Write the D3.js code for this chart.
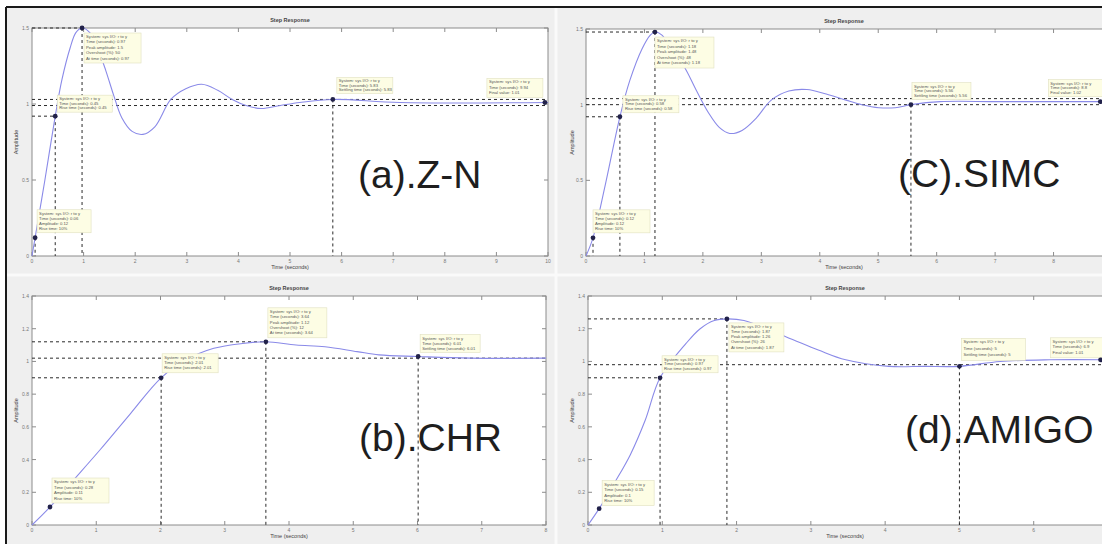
<!DOCTYPE html>
<html>
<head>
<meta charset="utf-8">
<script src="https://cdn.jsdelivr.net/npm/d3@7"></script>
<style>
  body { margin: 0; background: #fff; }
  svg { display: block; font-family: "Liberation Sans", Arial, sans-serif; }
</style>
</head>
<body>
<svg width="1102" height="544"></svg>
<script>
// step responses
const panelLabels = ["(a).Z-N", "(C).SIMC", "(b).CHR", "(d).AMIGO"]

const znTime = [0, 0.06, 0.25, 0.45, 0.58, 0.74, 0.85, 0.97, 1.12, 1.28, 1.43, 1.59, 1.74, 1.94, 2.15, 2.38, 2.69, 2.98, 3.29, 3.6, 3.88, 4.15, 4.44, 4.81, 5.19, 5.83, 7.13, 10]
const znAmp = [0, 0.12, 0.5, 0.92, 1.16, 1.37, 1.47, 1.5, 1.47, 1.36, 1.22, 1.05, 0.91, 0.82, 0.8, 0.85, 1.03, 1.1, 1.13, 1.09, 1.03, 0.99, 0.97, 0.99, 1.01, 1.03, 1.01, 1.01]
const znTipT = [0.06, 0.45, 0.97, 5.83, 9.94]
const znTipA = [0.12, 0.92, 1.5, 1.03, 1.01]
const znLevels = [1.03, 0.99]

const simcTime = [0, 0.12, 0.33, 0.58, 0.75, 0.96, 1.1, 1.18, 1.3, 1.47, 1.68, 1.88, 2.09, 2.28, 2.46, 2.67, 2.91, 3.17, 3.47, 3.78, 4.11, 4.45, 4.72, 5.01, 5.29, 5.56, 6.06, 7.08, 9]
const simcAmp = [0, 0.12, 0.47, 0.92, 1.16, 1.37, 1.46, 1.48, 1.46, 1.36, 1.25, 1.1, 0.95, 0.85, 0.81, 0.83, 0.91, 1.03, 1.09, 1.1, 1.07, 1.03, 1.0, 0.98, 0.98, 1.0, 1.02, 1.02, 1.02]
const simcTipT = [0.12, 0.58, 1.18, 5.56, 8.8]
const simcTipA = [0.12, 0.92, 1.48, 1.0, 1.02]
const simcLevels = [1.04, 1.0]

const chrTime = [0, 0.28, 0.59, 1.06, 1.53, 2.01, 2.4, 2.83, 3.28, 3.64, 4.11, 4.56, 5.06, 5.4, 6.01, 6.82, 8]
const chrAmp = [0, 0.11, 0.25, 0.46, 0.68, 0.9, 1.01, 1.08, 1.11, 1.12, 1.1, 1.09, 1.06, 1.04, 1.03, 1.02, 1.02]
const chrTipT = [0.28, 2.01, 3.64, 6.01]
const chrTipA = [0.11, 0.9, 1.12, 1.03]
const chrLevels = [1.02]

const amigoTime = [0, 0.15, 0.36, 0.57, 0.77, 0.97, 1.32, 1.51, 1.7, 1.87, 2.1, 2.67, 3.1, 3.47, 4.05, 4.53, 5.0, 5.55, 6.22, 7]
const amigoAmp = [0, 0.1, 0.26, 0.43, 0.64, 0.9, 1.11, 1.2, 1.25, 1.26, 1.25, 1.15, 1.07, 1.01, 0.97, 0.97, 0.97, 1.0, 1.01, 1.01]
const amigoTipT = [0.15, 0.97, 1.87, 5.0, 6.9]
const amigoTipA = [0.1, 0.9, 1.26, 0.97, 1.01]
const amigoLevels = [0.98]

const tipKinds = ["low", "rise", "peak", "settle", "final"]

const W = 1102
const svg = d3.select("svg")

// figure background + window frame
svg.append("rect").attr("x", 6).attr("y", 7).attr("width", 1096).attr("height", 537).attr("fill", "#efefef")
svg.append("line").attr("x1", 556).attr("x2", 556).attr("y1", 8).attr("y2", 544).attr("stroke", "#fafafa").attr("stroke-width", 3)
svg.append("line").attr("x1", 6).attr("x2", W).attr("y1", 275).attr("y2", 275).attr("stroke", "#fafafa").attr("stroke-width", 3)
svg.append("line").attr("x1", 6).attr("x2", W).attr("y1", 7).attr("y2", 7).attr("stroke", "#1a1a1a").attr("stroke-width", 2)
svg.append("line").attr("x1", 6).attr("x2", 6).attr("y1", 7).attr("y2", 544).attr("stroke", "#1a1a1a").attr("stroke-width", 2)

const panels = [
  { t: znTime, a: znAmp, tipT: znTipT, tipA: znTipA, levels: znLevels, label: panelLabels[0],
    x0: 32, x1: 548, y0: 28, y1: 256, tMax: 10, aMax: 1.5, aStep: 0.5, lowGuide: true,
    labelPos: [358, 188], yLabX: 18,
    boxes: [[2, -28, 54, 23], [2, -21, 55, 17], [2, 5, 57, 30], [4, -22, 56, 16], [-58, -24, 56, 19]] },
  { t: simcTime, a: simcAmp, tipT: simcTipT, tipA: simcTipA, levels: simcLevels, label: panelLabels[1],
    x0: 586, x1: 1112, y0: 29, y1: 256, tMax: 9, aMax: 1.5, aStep: 0.5, lowGuide: true,
    labelPos: [898, 187], yLabX: 574,
    boxes: [[0, -28, 57, 23], [3, -21, 56, 17], [0, 5, 59, 31], [1, -22, 59, 17], [-52, -22, 56, 17]] },
  { t: chrTime, a: chrAmp, tipT: chrTipT, tipA: chrTipA, levels: chrLevels, label: panelLabels[2],
    x0: 32, x1: 546, y0: 296, y1: 525, tMax: 8, aMax: 1.4, aStep: 0.2, lowGuide: false,
    labelPos: [359, 451], yLabX: 18,
    boxes: [[2, -29, 57, 25], [1, -24, 56, 19], [2, -34, 59, 30], [2, -22, 60, 18]] },
  { t: amigoTime, a: amigoAmp, tipT: amigoTipT, tipA: amigoTipA, levels: amigoLevels, label: panelLabels[3],
    x0: 588, x1: 1108, y0: 296, y1: 525, tMax: 7, aMax: 1.4, aStep: 0.2, lowGuide: false,
    labelPos: [905, 443], yLabX: 574,
    boxes: [[3, -28, 52, 25], [2, -22, 56, 17], [2, 4, 55, 29], [2, -28, 64, 22], [-50, -22, 57, 20]] }
]

const fmt = d3.format(".3~f")
const tipText = (kind, t, a) => {
  switch (kind) {
    case "low": return ["System: sys  I/O: r to y", "Time (seconds): " + fmt(t), "Amplitude: " + fmt(a), "Rise time: 10%"]
    case "rise": return ["System: sys  I/O: r to y", "Time (seconds): " + fmt(t), "Rise time (seconds): " + fmt(t)]
    case "peak": return ["System: sys  I/O: r to y", "Time (seconds): " + fmt(t), "Peak amplitude: " + fmt(a), "Overshoot (%): " + fmt((a - 1) * 100), "At time (seconds): " + fmt(t)]
    case "settle": return ["System: sys  I/O: r to y", "Time (seconds): " + fmt(t), "Settling time (seconds): " + fmt(t)]
    default: return ["System: sys  I/O: r to y", "Time (seconds): " + fmt(t), "Final value: " + fmt(a)]
  }
}

panels.forEach(p => {
  const x = d3.scaleLinear().domain([0, p.tMax]).range([p.x0, p.x1])
  const y = d3.scaleLinear().domain([0, p.aMax]).range([p.y1, p.y0])
  const g = svg.append("g")
  const xm = (p.x0 + Math.min(p.x1, W)) / 2

  g.append("rect").attr("x", p.x0).attr("y", p.y0)
    .attr("width", p.x1 - p.x0).attr("height", p.y1 - p.y0)
    .attr("fill", "#fff").attr("stroke", "#8c8c8c").attr("stroke-width", 1)

  // inward ticks on all four sides, matlab style
  const xt = d3.range(0, p.tMax + 1e-9, 1)
  const yt = d3.range(0, p.aMax + 1e-9, p.aStep)
  g.selectAll(".xtb").data(xt).enter().append("line")
    .attr("x1", d => x(d)).attr("x2", d => x(d)).attr("y1", p.y1).attr("y2", p.y1 - 4)
    .attr("stroke", "#8c8c8c")
  g.selectAll(".xtt").data(xt).enter().append("line")
    .attr("x1", d => x(d)).attr("x2", d => x(d)).attr("y1", p.y0).attr("y2", p.y0 + 4)
    .attr("stroke", "#8c8c8c")
  g.selectAll(".ytl").data(yt).enter().append("line")
    .attr("x1", p.x0).attr("x2", p.x0 + 4).attr("y1", d => y(d)).attr("y2", d => y(d))
    .attr("stroke", "#8c8c8c")
  g.selectAll(".ytr").data(yt).enter().append("line")
    .attr("x1", p.x1).attr("x2", p.x1 - 4).attr("y1", d => y(d)).attr("y2", d => y(d))
    .attr("stroke", "#8c8c8c")
  g.selectAll(".xl").data(xt.filter(d => x(d) < W - 6)).enter().append("text")
    .attr("x", d => x(d)).attr("y", p.y1 + 7).attr("text-anchor", "middle")
    .attr("font-size", 5).attr("fill", "#777").text(d => d)
  g.selectAll(".yl").data(yt).enter().append("text")
    .attr("x", p.x0 - 3).attr("y", d => y(d) + 2).attr("text-anchor", "end")
    .attr("font-size", 5).attr("fill", "#777").text(d => d3.format(".1~f")(d))

  g.append("text").attr("x", xm).attr("y", p.y0 - 6).attr("text-anchor", "middle")
    .attr("font-size", 5.5).attr("font-weight", "bold").attr("fill", "#444").text("Step Response")
  g.append("text").attr("x", xm).attr("y", p.y1 + 13).attr("text-anchor", "middle")
    .attr("font-size", 5.5).attr("fill", "#444").text("Time (seconds)")
  g.append("text").attr("transform", `translate(${p.yLabX},${(p.y0 + p.y1) / 2}) rotate(-90)`)
    .attr("text-anchor", "middle").attr("font-size", 5.5).attr("fill", "#444").text("Amplitude")

  // dashed characteristic guides
  const dash = sel => sel.attr("stroke", "#2a2a2a").attr("stroke-width", 1).attr("stroke-dasharray", "3,3").attr("fill", "none")
  p.levels.forEach(l => {
    g.append("line").attr("x1", p.x0).attr("x2", p.x1).attr("y1", y(l)).attr("y2", y(l)).call(dash)
  })
  p.tipT.forEach((t, i) => {
    const kind = tipKinds[i]
    const a = p.tipA[i]
    if (kind === "rise" || kind === "peak") {
      g.append("line").attr("x1", p.x0).attr("x2", x(t)).attr("y1", y(a)).attr("y2", y(a)).call(dash)
    }
    if (kind === "rise" || kind === "peak" || kind === "settle" || (kind === "low" && p.lowGuide)) {
      g.append("line").attr("x1", x(t)).attr("x2", x(t)).attr("y1", y(a)).attr("y2", p.y1).call(dash)
    }
  })

  const line = d3.line().x(d => x(d[0])).y(d => y(d[1])).curve(d3.curveCatmullRom.alpha(0.5))
  g.append("path").datum(p.t.map((t, i) => [t, p.a[i]]))
    .attr("d", line).attr("fill", "none").attr("stroke", "#8a8ae8").attr("stroke-width", 1.1)

  // data tips
  p.tipT.forEach((t, i) => {
    const px = x(t), py = y(p.tipA[i])
    const [dx, dy, w, h] = p.boxes[i]
    const lines = tipText(tipKinds[i], t, p.tipA[i])
    const box = g.append("g").attr("transform", `translate(${px + dx},${py + dy})`)
    box.append("rect").attr("width", w).attr("height", h)
      .attr("fill", "#fdfde4").attr("stroke", "#e0e0c0").attr("stroke-width", 0.6)
    box.selectAll("text").data(lines).enter().append("text")
      .attr("x", 2).attr("y", (d, j) => 5 + j * (h - 3) / lines.length)
      .attr("font-size", 4.2).attr("fill", "#555").text(d => d)
    g.append("circle").attr("cx", px).attr("cy", py).attr("r", 2.4).attr("fill", "#22224a")
  })

  g.append("text").attr("x", p.labelPos[0]).attr("y", p.labelPos[1])
    .attr("font-size", 39).attr("fill", "#1e1e1e").text(p.label)
})
</script>
</body>
</html>
